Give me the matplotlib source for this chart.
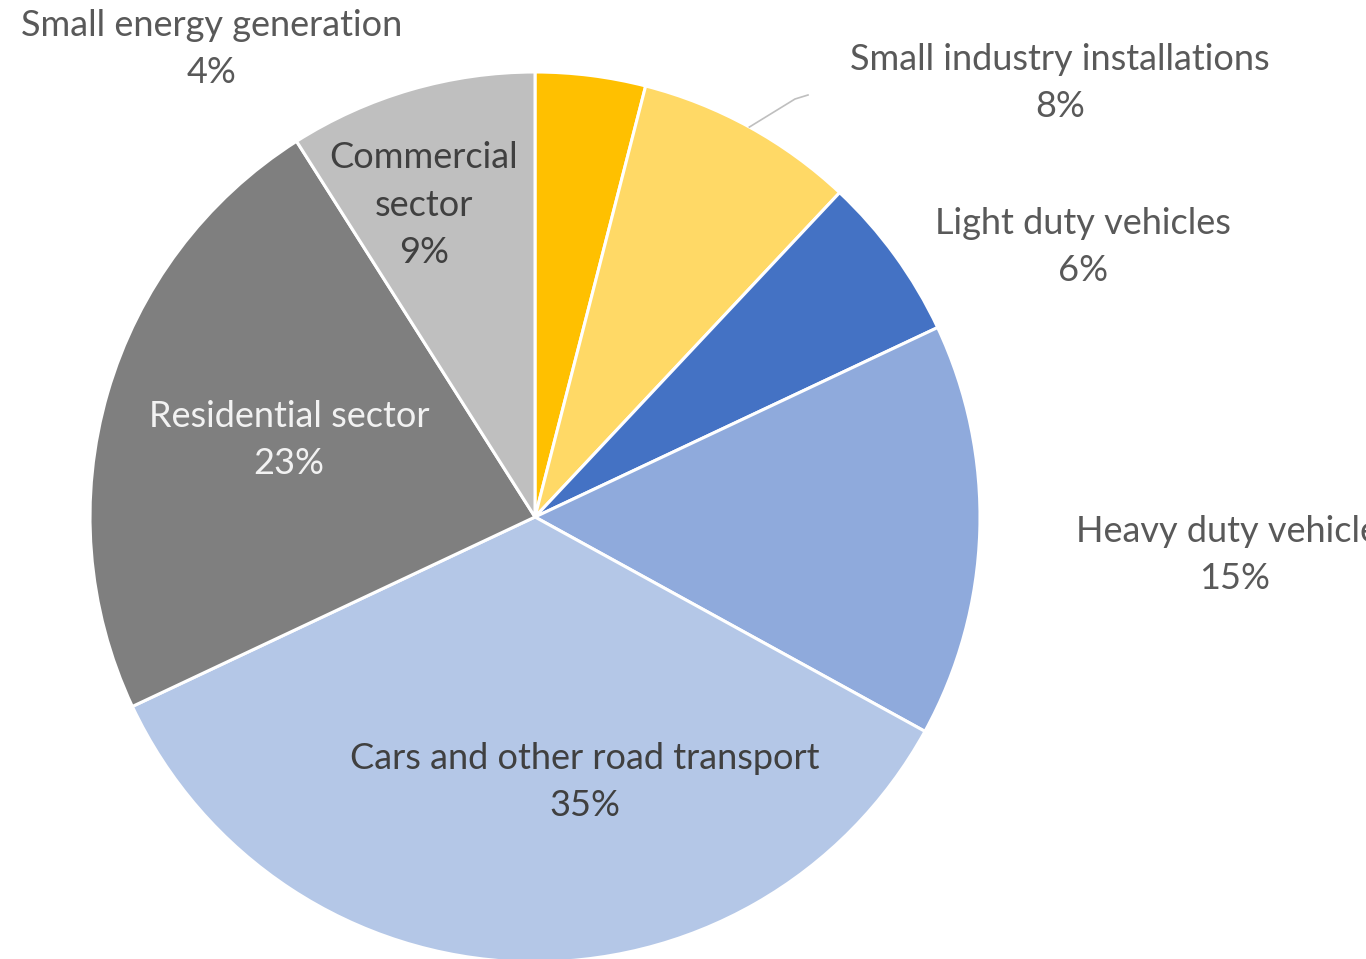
import matplotlib.pyplot as plt
import numpy as np

plt.rcParams['font.family'] = ['Lato', 'DejaVu Sans']

labels = ["Small energy generation", "Small industry installations", "Light duty vehicles",
          "Heavy duty vehicles", "Cars and other road transport", "Residential sector",
          "Commercial\nsector"]
shares = [4, 8, 6, 15, 35, 23, 9]
colors = ["#FFC000", "#FFD966", "#4472C4", "#8FAADC", "#B4C7E7", "#7F7F7F", "#BFBFBF"]
text_colors = ["#595959", "#595959", "#595959", "#595959", "#404040", "#F2F2F2", "#404040"]

# label centres in pixel space (x from left, y from top)
label_pos = [(212, 49), (1060, 83), (1083, 247), (1235, 555), (585, 782), (289, 440), (424, 205)]

W, H = 1366, 959
cx, cy, R = 535, 517, 445

fig = plt.figure(figsize=(W / 100, H / 100), dpi=100)
ax = fig.add_axes([0, 0, 1, 1])
ax.axis("off")

wedges, _ = ax.pie(shares, colors=colors, startangle=90, counterclock=False,
                   center=(cx, H - cy), radius=R,
                   wedgeprops=dict(edgecolor="white", linewidth=2.2))
ax.set_xlim(0, W)
ax.set_ylim(0, H)
ax.set_aspect("equal")

for lab, val, (x, y), tc in zip(labels, shares, label_pos, text_colors):
    ax.text(x, H - y, f"{lab}\n{val}%", ha="center", va="center", fontsize=26,
            color=tc, linespacing=1.55)

# leader line for the small industry slice
w = wedges[1]
mid = np.deg2rad((w.theta1 + w.theta2) / 2)
x0 = cx + R * np.cos(mid)
y0 = H - cy + R * np.sin(mid)
ax.plot([x0, 795, 808], [y0, H - 99, H - 95], color="#BFBFBF", linewidth=1.2)

fig.savefig("out.png", dpi=100)
